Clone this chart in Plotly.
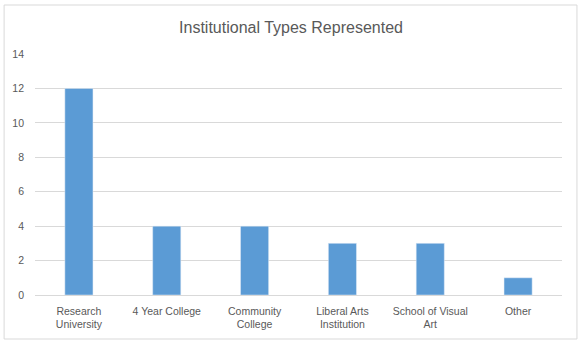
import plotly.graph_objects as go

categories = ["Research<br>University", "4 Year College", "Community<br>College",
              "Liberal Arts<br>Institution", "School of Visual<br>Art", "Other"]
values = [12, 4, 4, 3, 3, 1]
y_ticks = [0, 2, 4, 6, 8, 10, 12, 14]

W, H = 582, 346
L, R, T, B = 33, 20, 54, 51
pw = W - L - R
ph = H - T - B

fig = go.Figure(go.Bar(x=categories, y=values, marker_color="#5b9bd5", width=0.32))

fig.update_layout(
    width=W, height=H,
    margin=dict(l=L, r=R, t=T, b=B),
    paper_bgcolor="white", plot_bgcolor="white",
    font=dict(family="Liberation Sans, Arial, sans-serif", color="#595959", size=10.5),
    title=dict(text="Institutional Types Represented", x=0.5, xanchor="center",
               y=1 - 27 / H, yanchor="middle",
               font=dict(size=16, color="#595959")),
    showlegend=False,
)
fig.update_yaxes(range=[0, 14], tickvals=y_ticks, showgrid=True, gridcolor="#d9d9d9",
                 gridwidth=1, zeroline=False, showline=False, ticks="", ticklabelstandoff=10,
                 tickfont=dict(size=10.5, color="#595959"))
fig.update_xaxes(showline=True, linecolor="#d9d9d9", linewidth=1, ticks="",
                 ticklabelstandoff=6,
                 tickfont=dict(size=10.5, color="#595959"), tickangle=0)

fig.add_shape(type="rect", xref="paper", yref="paper",
              x0=(2 - L) / pw, x1=(577 - L) / pw,
              y0=-(339 - (T + ph)) / ph, y1=1 + (T - 5) / ph,
              line=dict(color="#d9d9d9", width=1), fillcolor="rgba(0,0,0,0)", layer="below")

fig.write_html("out.html")
